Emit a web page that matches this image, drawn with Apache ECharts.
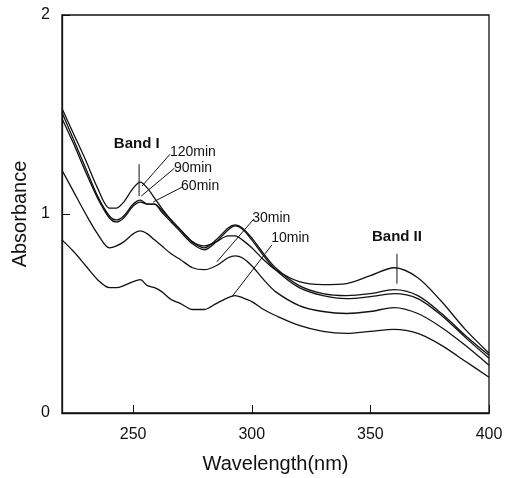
<!DOCTYPE html>
<html>
<head>
<meta charset="utf-8">
<script src="https://cdn.jsdelivr.net/npm/echarts@6/dist/echarts.min.js"></script>
<style>
html, body { margin: 0; padding: 0; background: #fff; }
#main { width: 507px; height: 478px; }
</style>
</head>
<body>
<div id="main"></div>
<script>
var wavelength = [220, 225, 230, 235, 240, 243, 246, 250, 253, 256, 259, 262, 266, 270, 275, 280, 285, 290, 293, 296, 300, 305, 310, 320, 330, 340, 350, 360, 370, 380, 390, 400];

var abs120 = [1.53, 1.40, 1.27, 1.13, 1.03, 1.03, 1.06, 1.13, 1.16, 1.13, 1.08, 1.03, 0.97, 0.92, 0.86, 0.84, 0.86, 0.89, 0.89, 0.87, 0.83, 0.77, 0.72, 0.66, 0.645, 0.65, 0.69, 0.73, 0.68, 0.56, 0.42, 0.30];
var abs90  = [1.51, 1.37, 1.23, 1.09, 0.99, 0.97, 0.99, 1.05, 1.07, 1.05, 1.05, 1.02, 0.97, 0.92, 0.86, 0.83, 0.87, 0.93, 0.945, 0.93, 0.88, 0.80, 0.73, 0.64, 0.60, 0.59, 0.60, 0.62, 0.59, 0.50, 0.39, 0.29];
var abs60  = [1.48, 1.35, 1.21, 1.08, 0.98, 0.96, 0.98, 1.04, 1.06, 1.05, 1.05, 1.01, 0.96, 0.91, 0.85, 0.82, 0.86, 0.92, 0.94, 0.925, 0.87, 0.79, 0.72, 0.63, 0.59, 0.575, 0.585, 0.60, 0.575, 0.49, 0.38, 0.275];
var abs30  = [1.22, 1.11, 1.00, 0.90, 0.83, 0.84, 0.86, 0.90, 0.915, 0.90, 0.87, 0.84, 0.80, 0.77, 0.73, 0.72, 0.74, 0.78, 0.79, 0.78, 0.74, 0.67, 0.61, 0.54, 0.51, 0.50, 0.51, 0.53, 0.50, 0.43, 0.34, 0.24];
var abs10  = [0.87, 0.81, 0.74, 0.67, 0.63, 0.63, 0.64, 0.66, 0.67, 0.64, 0.63, 0.61, 0.57, 0.55, 0.52, 0.52, 0.55, 0.58, 0.59, 0.58, 0.56, 0.52, 0.49, 0.44, 0.41, 0.40, 0.41, 0.42, 0.40, 0.34, 0.26, 0.18];

var xTicks = [250, 300, 350, 400];
var yTicks = [0, 1, 2];

// label text, anchor in data coords, leader line [from, to]
var notes = [
    {text: 'Band I', bold: true, at: [251.5, 1.35], line: [[252.5, 1.25], [252.5, 1.09]]},
    {text: '120min', at: [265.5, 1.31], line: [[265.5, 1.30], [253.7, 1.14]]},
    {text: '90min',  at: [267.2, 1.23], line: [[267.4, 1.23], [253.4, 1.09]]},
    {text: '60min',  at: [270.2, 1.14], line: [[270.6, 1.135], [258.4, 1.06]]},
    {text: '30min',  at: [300.2, 0.98], line: [[300.5, 0.97], [285.3, 0.76]]},
    {text: '10min',  at: [308.2, 0.88], line: [[308.5, 0.845], [291.7, 0.585]]},
    {text: 'Band II', bold: true, at: [361.2, 0.885], line: [[361.2, 0.80], [361.2, 0.65]]}
];

var myChart = echarts.init(document.getElementById('main'));

function curve(name, vals) {
    return {
        name: name,
        type: 'line',
        data: wavelength.map(function (w, i) { return [w, vals[i]]; }),
        smooth: 0.3,
        symbol: 'none',
        lineStyle: { color: '#111', width: 1.3 },
        silent: true
    };
}

var series = [
    curve('120min', abs120),
    curve('90min', abs90),
    curve('60min', abs60),
    curve('30min', abs30),
    curve('10min', abs10)
];

notes.forEach(function (n) {
    series.push({
        type: 'line',
        data: n.line,
        symbol: 'none',
        lineStyle: { color: '#111', width: 1 },
        silent: true
    });
});

var option = {
    animation: false,
    backgroundColor: '#fff',
    grid: {
        left: 62, right: 18, top: 15, bottom: 65,
        containLabel: false,
        outerBoundsMode: 'none',
        show: true, borderColor: '#111', borderWidth: 1.3
    },
    xAxis: {
        type: 'value',
        min: 220, max: 400,
        name: 'Wavelength(nm)',
        nameLocation: 'middle',
        nameGap: 41,
        nameTextStyle: { color: '#111', fontSize: 20, fontFamily: 'Liberation Sans' },
        axisLine: { lineStyle: { color: '#111', width: 1.3 } },
        axisTick: { inside: true, length: 8, customValues: xTicks, lineStyle: { color: '#111' } },
        axisLabel: { customValues: xTicks, color: '#111', fontSize: 16, margin: 14, fontFamily: 'Liberation Sans' },
        splitLine: { show: false }
    },
    yAxis: {
        type: 'value',
        min: 0, max: 2, interval: 1,
        name: 'Absorbance',
        nameLocation: 'middle',
        nameGap: 32,
        nameTextStyle: { color: '#111', fontSize: 20, fontFamily: 'Liberation Sans' },
        axisLine: { lineStyle: { color: '#111', width: 1.3 } },
        axisTick: { inside: true, length: 8, lineStyle: { color: '#111' } },
        axisLabel: { color: '#111', fontSize: 16, margin: 12, fontFamily: 'Liberation Sans',
            formatter: function (v) { return yTicks.indexOf(v) >= 0 ? String(v) : ''; } },
        splitLine: { show: false }
    },
    series: series
};

myChart.setOption(option);

var texts = notes.map(function (n) {
    var p = myChart.convertToPixel({ gridIndex: 0 }, n.at);
    var isBand = !!n.bold;
    return {
        type: 'text',
        x: p[0], y: p[1],
        silent: true,
        style: {
            text: n.text,
            fill: '#111',
            font: (isBand ? 'bold 15px' : '14px') + ' "Liberation Sans", Arial, sans-serif',
            align: isBand ? 'center' : 'left',
            verticalAlign: 'middle'
        }
    };
});

myChart.setOption({ graphic: texts });
</script>
</body>
</html>
